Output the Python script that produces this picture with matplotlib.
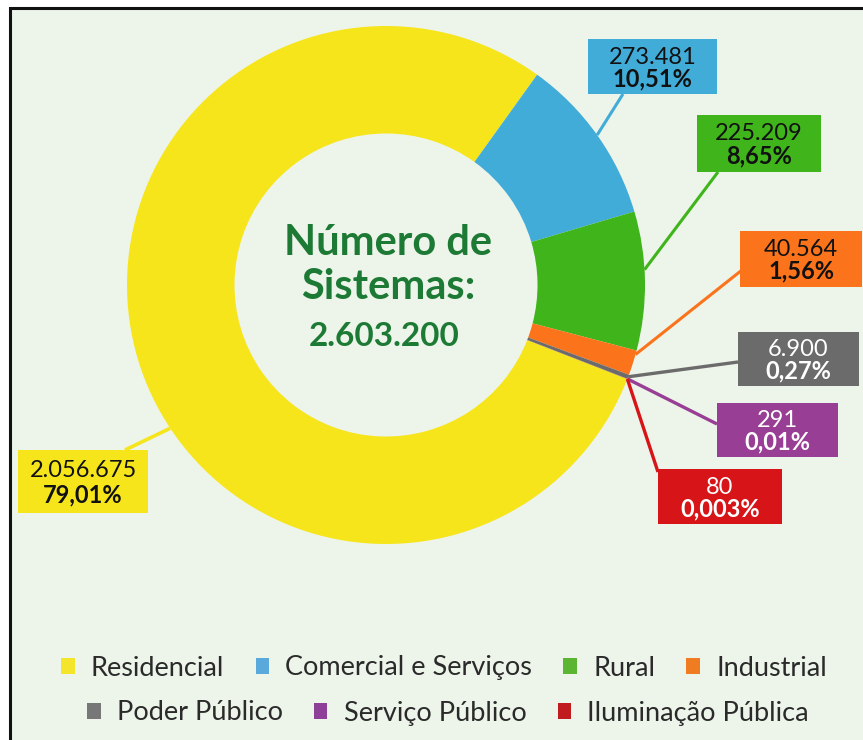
import matplotlib
matplotlib.use("Agg")
import matplotlib.pyplot as plt
from matplotlib.patches import Rectangle, Patch
import numpy as np

plt.rcParams['font.family'] = ['Lato', 'DejaVu Sans']

# ---- data ----
categories = ["Residencial", "Comercial e Serviços", "Rural", "Industrial",
              "Poder Público", "Serviço Público", "Iluminação Pública"]
values = [2056675, 273481, 225209, 40564, 6900, 291, 80]
value_labels = ["2.056.675", "273.481", "225.209", "40.564", "6.900", "291", "80"]
pct_labels = ["79,01%", "10,51%", "8,65%", "1,56%", "0,27%", "0,01%", "0,003%"]
total_label = "2.603.200"
center_line1 = "Número de"
center_line2 = "Sistemas:"

colors = ["#f7e51b", "#42acd9", "#3fb41b", "#fb731a", "#6b6b6b", "#983e95", "#d71417"]
text_colors = ["#111111", "#111111", "#111111", "#111111", "white", "white", "white"]
legend_colors = ["#f4e42a", "#5aa9dc", "#5cb532", "#f07c22", "#777777", "#8e3f97", "#c01b1f"]

W, H = 863, 740
fig = plt.figure(figsize=(W / 100, H / 100), dpi=100, facecolor="white")
ax = fig.add_axes([0, 0, 1, 1])

def py(y):  # pixel-from-top -> data y
    return H - y

# background panel with border
ax.add_patch(Rectangle((10, py(760)), 900, 760 - 8, facecolor="#edf4ea",
                       edgecolor="#111111", lw=2.2, zorder=0))

cx, cy, R = 386, py(285), 259
frac_y = values[0] / sum(values)
start = 54.3 + 360 * frac_y
wedges, _ = ax.pie(values, colors=colors, startangle=start, counterclock=False,
                   radius=R, center=(cx, cy),
                   wedgeprops=dict(width=R * 0.415, edgecolor="none", linewidth=0))
for w in wedges:
    w.set_zorder(2)

# center text
green_txt = "#1d7a35"
ax.text(cx + 2, py(243), center_line1, ha="center", va="center", fontsize=30,
        fontweight="bold", color=green_txt, zorder=5)
ax.text(cx + 2, py(287), center_line2, ha="center", va="center", fontsize=30,
        fontweight="bold", color=green_txt, zorder=5)
ax.text(cx - 2, py(337), total_label, ha="center", va="center", fontsize=24,
        fontweight="bold", color=green_txt, zorder=5)

# label boxes: (x0, y0, x1, y1) in pixels from top-left
boxes = [(18, 450, 148, 513), (588, 39, 717, 94), (697, 115, 821, 172),
         (740, 231, 862, 287), (738, 332, 859, 386), (717, 403, 838, 457),
         (658, 469, 782, 524)]
attach = [(125, 450), (623, 94), (718, 172), (742, 270), (738, 362),
          (717, 424), (658, 472)]
anchor_frac = [0.56, 0.5, 0.58, 0.84, 0.5, 0.5, 0.5]
line_w = [2.6, 2.2, 2.2, 2.2, 2.4, 2.4, 2.4]

for i, w in enumerate(wedges):
    x0, y0, x1, y1 = boxes[i]
    ax.add_patch(Rectangle((x0, py(y1)), x1 - x0, y1 - y0, facecolor=colors[i],
                           edgecolor="none", zorder=4))
    xc = (x0 + x1) / 2
    h = y1 - y0
    ax.text(xc, py(y0 + h * 0.33), value_labels[i], ha="center", va="center",
            fontsize=17, color=text_colors[i], zorder=5)
    ax.text(xc, py(y0 + h * 0.72), pct_labels[i], ha="center", va="center",
            fontsize=17, fontweight="bold", color=text_colors[i], zorder=5)
    ang = np.deg2rad(w.theta1 + anchor_frac[i] * (w.theta2 - w.theta1))
    ex, ey = cx + R * np.cos(ang), cy + R * np.sin(ang)
    ax.plot([ex, attach[i][0]], [ey, py(attach[i][1])], color=colors[i],
            lw=line_w[i], zorder=3, solid_capstyle="butt")

ax.set_xlim(0, W)
ax.set_ylim(0, H)
ax.set_aspect("equal")
ax.axis("off")

# legends (two rows)
handles = [Patch(facecolor=c, edgecolor="none") for c in legend_colors]
common = dict(frameon=False, fontsize=19.5, handlelength=0.5, handleheight=0.5,
              handletextpad=0.6, columnspacing=1.15, borderaxespad=0, borderpad=0)
leg1 = ax.legend(handles[:4], categories[:4], ncol=4, loc="center",
                 bbox_to_anchor=(444 / W, 1 - 668 / H), **common)
for t in leg1.get_texts():
    t.set_color("#2a2a2a")
ax.add_artist(leg1)
leg2 = ax.legend(handles[4:], categories[4:], ncol=3, loc="center",
                 bbox_to_anchor=(448 / W, 1 - 713 / H), **common)
for t in leg2.get_texts():
    t.set_color("#2a2a2a")

fig.savefig("out.png", dpi=100, facecolor="white")
